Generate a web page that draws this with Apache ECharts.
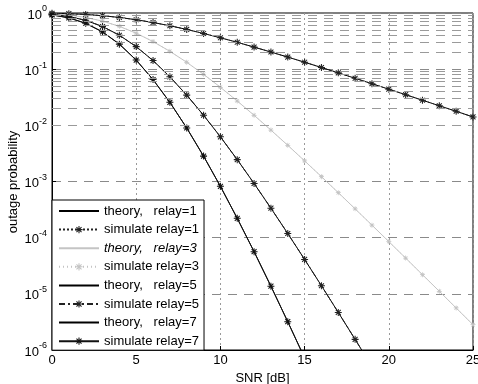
<!DOCTYPE html>
<html>
<head>
<meta charset="utf-8">
<script src="https://cdn.jsdelivr.net/npm/echarts@6/dist/echarts.min.js"></script>
<style>
  html, body { margin: 0; padding: 0; background: #fff; }
  #chart { width: 478px; height: 384px; }
</style>
</head>
<body>
<div id="chart"></div>
<script>
// SNR in dB, one point per dB
const snrDb = [0, 1, 2, 3, 4, 5, 6, 7, 8, 9, 10, 11, 12, 13, 14, 15, 16, 17, 18, 19, 20, 21, 22, 23, 24, 25];

// outage probability (theory and simulation lie on top of each other)
const relay1 = [0.989, 0.972, 0.942, 0.895, 0.833, 0.759, 0.677, 0.593, 0.510, 0.432, 0.362, 0.301, 0.247,
  0.202, 0.164, 0.133, 0.107, 0.0859, 0.0688, 0.0551, 0.0440, 0.0351, 0.0280, 0.0223, 0.0178, 0.0141];
const relay3 = [0.967, 0.918, 0.835, 0.717, 0.579, 0.437, 0.310, 0.208, 0.1326, 0.0809, 0.0476, 0.0271, 0.0151,
  0.00823, 0.00441, 0.00233, 0.00122, 6.33e-4, 3.26e-4, 1.67e-4, 8.52e-5, 4.33e-5, 2.19e-5, 1.11e-5, 5.60e-6, 2.82e-6];
const relay5 = [0.946, 0.868, 0.740, 0.575, 0.402, 0.252, 0.1423, 0.0731, 0.0345, 0.01513, 0.00625, 0.00245,
  9.22e-4, 3.35e-4, 1.187e-4, 4.10e-5, 1.394e-5, 4.67e-6, 1.546e-6, 5.07e-7];
const relay7 = [0.925, 0.820, 0.656, 0.461, 0.279, 0.1451, 0.0652, 0.02566, 0.00897, 0.00283, 8.20e-4, 2.21e-4,
  5.63e-5, 1.367e-5, 3.19e-6, 7.22e-7];

const sim1 = relay1;
const sim3 = relay3;
const sim5 = relay5;
const sim7 = relay7;

const xTicks = [0, 5, 10, 15, 20, 25];

const FONT = '"Liberation Sans", Arial, Helvetica, sans-serif';
const STAR = 'path://M-1.5,-10L1.5,-10L1.5,10L-1.5,10Z' +
  'M-10,-1.5L10,-1.5L10,1.5L-10,1.5Z' +
  'M-8.1,-6L-6,-8.1L8.1,6L6,8.1Z' +
  'M6,-8.1L8.1,-6L-6,8.1L-8.1,6Z';
const FAINT = '#c4c4c4';

function pairs(ys) {
  return ys.map((y, i) => [snrDb[i], y]);
}

// minor log grid lines, 2..9 within each decade
const minorLines = [];
for (let k = -6; k < 0; k++) {
  for (let m = 2; m <= 9; m++) minorLines.push({ yAxis: m * Math.pow(10, k) });
}

function theory(name, ys, color) {
  return {
    name, type: 'line', data: pairs(ys), symbol: 'none',
    lineStyle: { color, width: 1, type: 'solid' },
    itemStyle: { color }, z: 3,
  };
}
function simulate(name, ys, color, dash, size) {
  return {
    name, type: 'line', data: pairs(ys), symbol: STAR, symbolSize: size, showAllSymbol: true,
    lineStyle: { color, width: 1, type: dash },
    itemStyle: { color }, z: 4,
  };
}

const names = [
  'theory,   relay=1', 'simulate relay=1',
  'theory,   relay=3', 'simulate relay=3',
  'theory,   relay=5', 'simulate relay=5',
  'theory,   relay=7', 'simulate relay=7',
];

const legendData = names.map((n, i) => {
  const item = { name: n };
  if (i % 2 === 0) item.itemStyle = { opacity: 0 }; // theory rows: plain line, no marker
  if (i === 2) item.textStyle = { fontStyle: 'italic' };
  return item;
});

const chart = echarts.init(document.getElementById('chart'), null, { renderer: 'canvas' });
chart.setOption({
  animation: false,
  backgroundColor: '#fff',
  textStyle: { fontFamily: FONT },
  grid: {
    left: 52, right: 5, top: 13, bottom: 34,
    outerBoundsMode: 'none',
    show: true, borderColor: '#000', borderWidth: 1, backgroundColor: 'transparent',
  },
  // y axis title placed by hand, the axis name kept drifting left of the labels
  graphic: [{
    type: 'text', x: 13, y: 182, rotation: Math.PI / 2, silent: true,
    style: {
      text: 'outage probability', fill: '#000', font: '13px ' + FONT,
      textAlign: 'center', textVerticalAlign: 'middle',
    },
  }],
  legend: {
    orient: 'vertical', left: 52, top: 200,
    itemWidth: 40, itemHeight: 9, itemGap: 4.6,
    padding: [4, 5, 2, 6],
    backgroundColor: '#fff', borderColor: '#000', borderWidth: 1,
    textStyle: { fontSize: 13, color: '#000', fontFamily: FONT, lineHeight: 14 },
    data: legendData,
  },
  xAxis: {
    type: 'value', min: 0, max: 25, interval: 5,
    name: 'SNR [dB]', nameLocation: 'middle', nameGap: 20,
    nameTextStyle: { fontSize: 13, color: '#000', fontFamily: FONT },
    axisLine: { lineStyle: { color: '#000' } },
    axisTick: { inside: true, length: 4, lineStyle: { color: '#000' } },
    axisLabel: {
      fontSize: 13, color: '#000', margin: 4, fontFamily: FONT,
      formatter: (v) => (xTicks.includes(v) ? String(v) : ''),
    },
    splitLine: { show: true, lineStyle: { color: '#999', type: [2, 3], width: 1 } },
  },
  yAxis: {
    type: 'log', logBase: 10, min: 1e-6, max: 1, interval: 1,
    axisLine: { show: true, lineStyle: { color: '#000' } },
    axisTick: { inside: true, length: 4, lineStyle: { color: '#000' } },
    axisLabel: {
      margin: 5,
      formatter: (v) => `{b|10}{e|${Math.round(Math.log10(v))}}`,
      rich: {
        b: { fontSize: 13, color: '#000', fontFamily: FONT, lineHeight: 17, verticalAlign: 'bottom' },
        e: { fontSize: 9, color: '#000', fontFamily: FONT, lineHeight: 17, verticalAlign: 'top' },
      },
    },
    splitLine: { show: true, lineStyle: { color: '#8a8a8a', type: [9, 7], width: 1 } },
  },
  series: [
    {
      name: 'grid-minor', type: 'line', data: [], silent: true, z: 1,
      markLine: {
        silent: true, symbol: ['none', 'none'], label: { show: false },
        lineStyle: { color: '#9a9a9a', type: [9, 7], width: 1 },
        emphasis: { disabled: true },
        data: minorLines,
      },
    },
    theory(names[0], relay1, '#000'),
    simulate(names[1], sim1, '#222', [2, 2], 7),
    theory(names[2], relay3, FAINT),
    simulate(names[3], sim3, FAINT, [1, 3], 5),
    theory(names[4], relay5, '#000'),
    simulate(names[5], sim5, '#222', [6, 3, 2, 3], 7),
    theory(names[6], relay7, '#000'),
    simulate(names[7], sim7, '#111', 'solid', 7),
  ],
});
</script>
</body>
</html>
